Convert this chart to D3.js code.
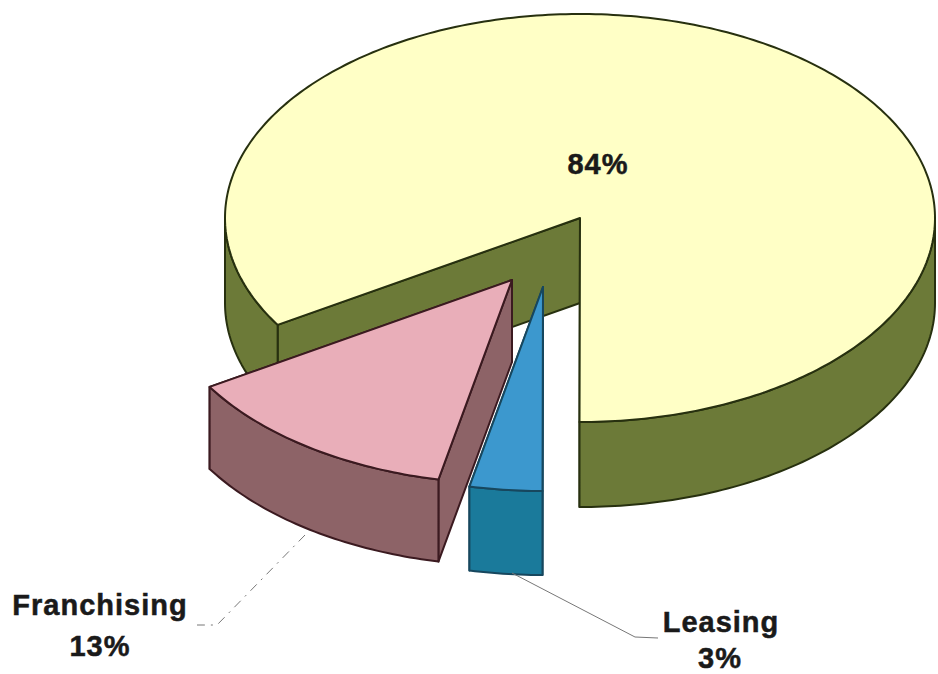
<!DOCTYPE html>
<html>
<head>
<meta charset="utf-8">
<script src="https://cdn.jsdelivr.net/npm/d3@7/dist/d3.min.js"></script>
<style>
html,body{margin:0;padding:0;background:#fff;}
svg{display:block;}
text{font-family:"Liberation Sans",Arial,sans-serif;font-weight:700;fill:#1a1a1a;text-anchor:middle;stroke:#1a1a1a;stroke-width:0.5px;}
</style>
</head>
<body>
<script>
// Data (clockwise from the lower-left cut)
const categories = ["Main", "Leasing", "Franchising"];
const shares = [83.8, 3.3, 12.9];
const drawOrder = ["Main", "Franchising", "Leasing"];

// Presentation, keyed by category
const fills = {
  Main:        {top:"#FFFFC6", wall:"#6C7A38", line:"#27300F"},
  Franchising: {top:"#E9AEB9", wall:"#8D6367", line:"#3B1A20"},
  Leasing:     {top:"#3C98CE", wall:"#1A7A9B", line:"#17475E"}
};
const explode = {
  Main:{dx:0,dy:0,depth:85},
  Franchising:{dx:-68,dy:62,depth:82},
  Leasing:{dx:-37,dy:69,depth:84}
};

const width = 938, height = 674;
const cx = 580, cy = 218, rx = 355, ry = 204;

const x = d3.scaleLinear().domain([-1,1]).range([cx-rx,cx+rx]);
const y = d3.scaleLinear().domain([-1,1]).range([cy-ry,cy+ry]);

const svg = d3.select("body").append("svg").attr("width",width).attr("height",height);

// Start at the lower-left cut and sweep clockwise through the top
const startAngle = 238.4*Math.PI/180;
const arcs = d3.pie().sort(null).startAngle(startAngle).endAngle(startAngle+2*Math.PI)
  .value((d,i)=>shares[i])(categories);

const line = d3.line();
const poly = pts => line(pts)+"Z";

function edge(a,off,z){ return [x(Math.sin(a))+off.dx, y(-Math.cos(a))+off.dy+z]; }
function centre(off,z){ return [x(0)+off.dx, y(0)+off.dy+z]; }
function arcPts(a0,a1,off,z){
  const n = Math.max(2,Math.ceil(Math.abs(a1-a0)*60));
  return d3.range(n+1).map(i=>edge(a0+(a1-a0)*i/n,off,z));
}
const tau = 2*Math.PI;

// Front-facing portions of the outer wall lie between 90° and 270° (mod 360°)
function frontRanges(a0,a1){
  const out=[];
  for(let k=-1;k<=2;k++){
    const lo=Math.PI/2+k*tau, hi=3*Math.PI/2+k*tau;
    const s=Math.max(a0,lo), e=Math.min(a1,hi);
    if(e>s) out.push([s,e]);
  }
  return out;
}

drawOrder.map(n=>arcs.find(a=>a.data===n)).forEach(d=>{
  const name=d.data, st=fills[name], off=explode[name], depth=off.depth;
  const g=svg.append("g").attr("class","slice").attr("data-category",name);
  const style=(p,fill)=>p.attr("fill",fill).attr("stroke",st.line).attr("stroke-width",2).attr("stroke-linejoin","round");

  const wall=[];
  // Cut face at each radial edge
  [d.startAngle,d.endAngle].forEach(a=>{
    const c0=centre(off,0), e0=edge(a,off,0), e1=edge(a,off,depth), c1=centre(off,depth);
    wall.push({depth:(e0[1]+c0[1])/2, pts:[c0,e0,e1,c1]});
  });
  // Outer curved wall
  frontRanges(d.startAngle,d.endAngle).forEach(([s,e])=>{
    const topArc=arcPts(s,e,off,0), botArc=arcPts(e,s,off,depth);
    wall.push({depth:d3.mean(topArc,p=>p[1]), pts:topArc.concat(botArc)});
  });
  wall.sort((a,b)=>a.depth-b.depth).forEach(w=>style(g.append("path").attr("d",poly(w.pts)),st.wall));

  // Top face
  const topPts=[centre(off,0)].concat(arcPts(d.startAngle,d.endAngle,off,0));
  style(g.append("path").attr("d",poly(topPts)),st.top);
});

// Leader lines
const leaders = [
  {pts:[[305,535],[217,625],[197,625]], dash:"9 6 2 6"},
  {pts:[[512,573],[635,637],[658,638]], dash:null}
];
leaders.forEach(l=>svg.append("path").attr("d",d3.line()(l.pts)).attr("fill","none")
  .attr("stroke","#777").attr("stroke-width",1).attr("stroke-dasharray",l.dash));

// Labels
const pct = v => Math.round(v)+"%";
const labels = [
  {t:pct(shares[0]), x:598, y:174},
  {t:categories[2], x:100, y:615},
  {t:pct(shares[2]), x:100, y:656},
  {t:categories[1], x:721, y:632},
  {t:pct(shares[1]), x:720, y:668}
];
labels.forEach(l=>svg.append("text").attr("x",l.x).attr("y",l.y).attr("font-size",29).attr("letter-spacing",1).text(l.t));
</script>
</body>
</html>
